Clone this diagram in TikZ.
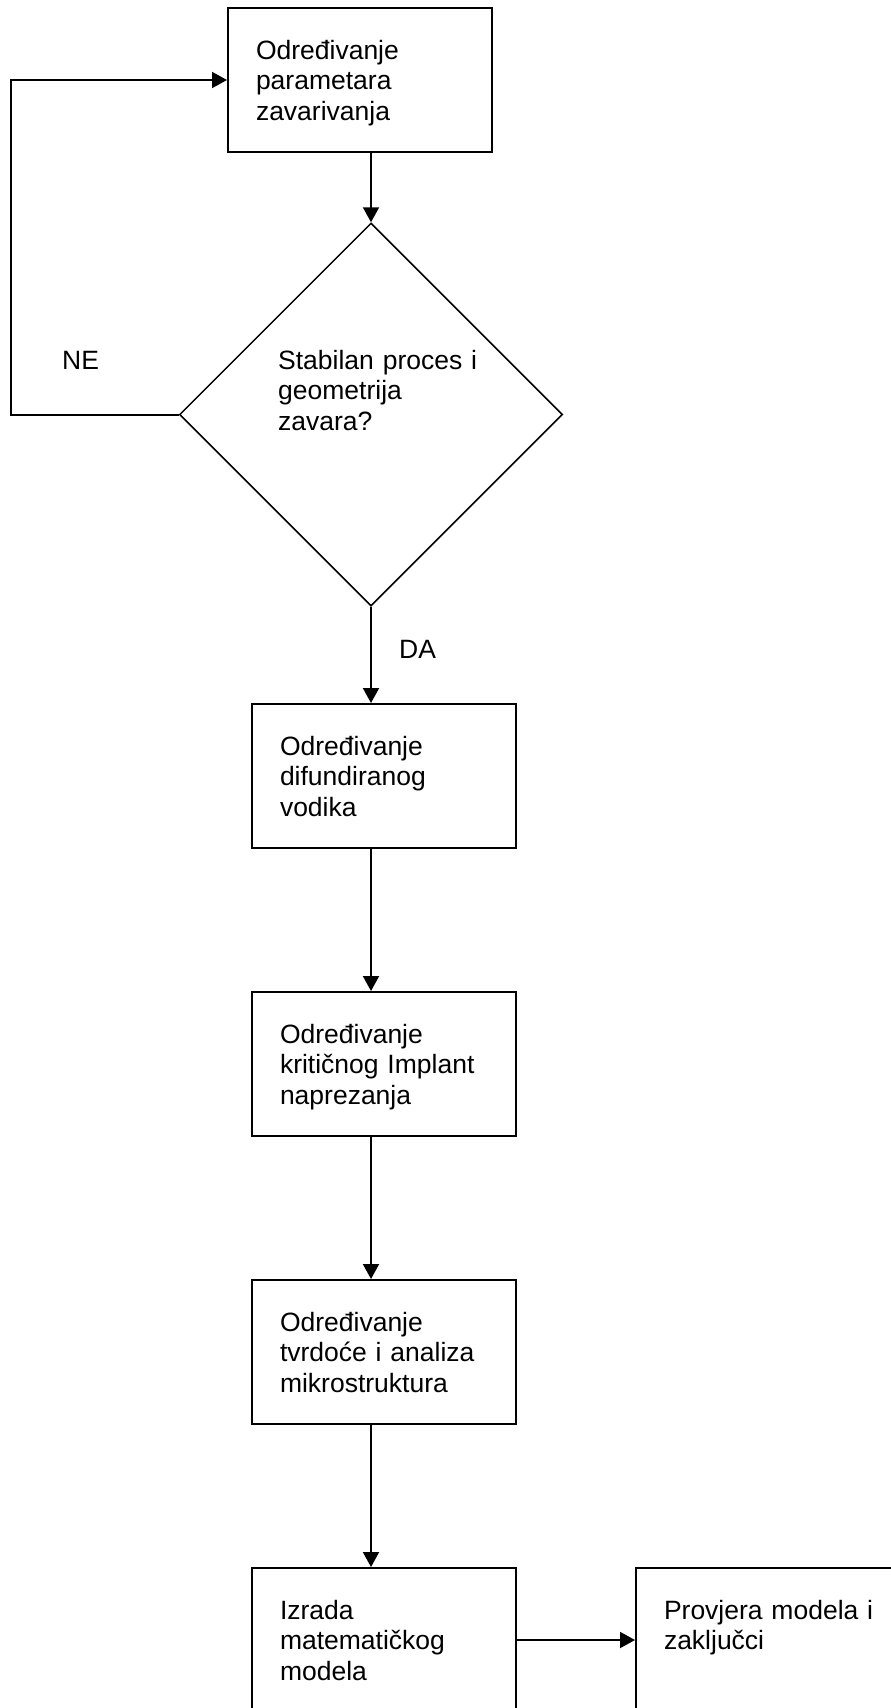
\documentclass[tikz,border=0pt]{standalone}
\usepackage{fontspec}
\setmainfont{Liberation Sans}
\usetikzlibrary{shapes.geometric,arrows.meta}

\begin{document}
\begin{tikzpicture}[x=1pt,y=-1pt,
  every node/.style={black, font=\fontsize{26.5pt}{30.5pt}\selectfont},
  box/.style={draw, line width=2pt, anchor=north west, text width=208pt, align=left,
    inner xsep=28pt, inner ysep=0pt, text height=51pt, text depth=93pt},
  arr/.style={-{Triangle[length=15pt,width=16pt]}, line width=2pt}]
\useasboundingbox (0,0) rectangle (891,1708);

\node[box] (par) at (227,7) {Određivanje\\parametara\\zavarivanja};
\node[draw, diamond, line width=1.5pt, minimum width=383pt, minimum height=383pt, inner sep=0pt] (dia) at (371,414.5) {};
\node[anchor=base west, text width=220pt, align=left, inner sep=0pt] (diatxt) at (278,369) {Stabilan proces i\\geometrija\\zavara?};
\node[anchor=base west, inner sep=0pt] (ne) at (62,369) {NE};
\node[anchor=base west, inner sep=0pt] (da) at (399,658) {DA};

\node[box] (vod) at (251,703) {Određivanje\\difundiranog\\vodika};
\node[box] (nap) at (251,991) {Određivanje\\kritičnog Implant\\naprezanja};
\node[box] (tvr) at (251,1279) {Određivanje\\tvrdoće i analiza\\mikrostruktura};
\node[box] (mod) at (251,1567) {Izrada\\matematičkog\\modela};
\node[box, text width=230pt] (zak) at (635,1567) {Provjera modela i\\zaključci};

\coordinate (loop) at (11,414.5);
\draw[arr] (par.south -| dia.north) -- (dia.north);
\draw[arr] (dia.south) -- (vod.north -| dia.south);
\foreach \a/\b in {vod/nap, nap/tvr, tvr/mod}
  \draw[arr] (\a.south -| dia.south) -- (\b.north -| dia.south);
\draw[arr] (mod) -- (zak);
\draw[arr] (dia.west) -- (loop) |- (par.west);
\end{tikzpicture}
\end{document}
